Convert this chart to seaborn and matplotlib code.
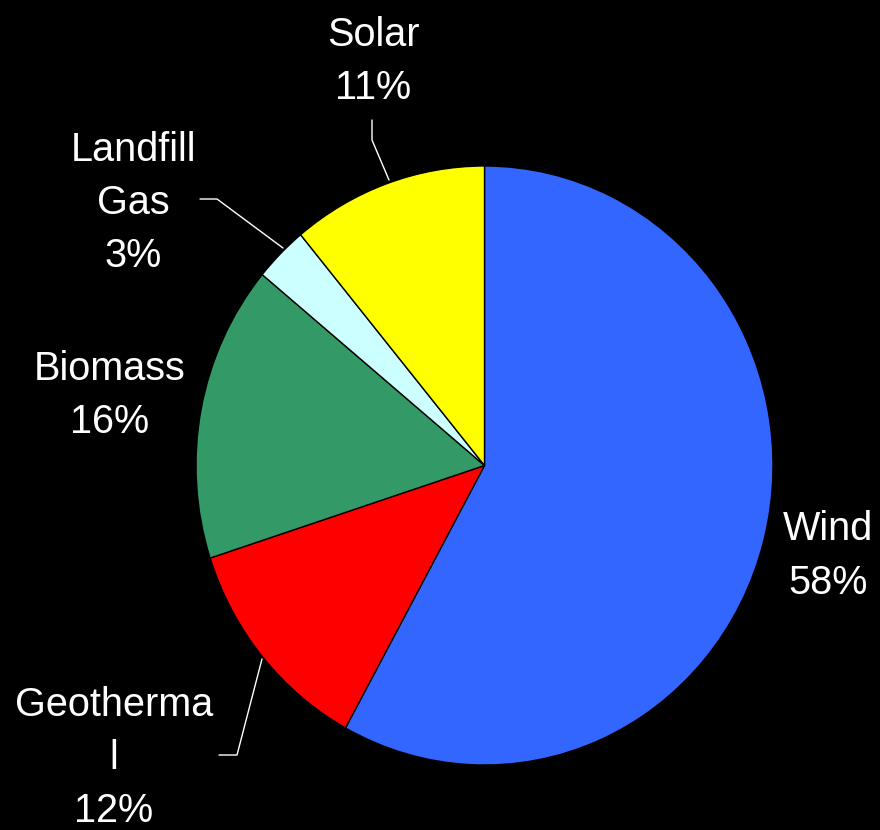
import matplotlib
matplotlib.use("Agg")
import matplotlib.pyplot as plt
import seaborn as sns

# Share of renewable generation by source
sources = ["Wind", "Geothermal", "Biomass", "Landfill Gas", "Solar"]
shares = [58, 12, 16, 3, 11]
labels = ["Wind\n58%", "Geotherma\nl\n12%", "Biomass\n16%", "Landfill\nGas\n3%", "Solar\n11%"]
colors = ["#3366FF", "#FF0000", "#339966", "#CCFFFF", "#FFFF00"]

sns.set_theme(style="white")
plt.rcParams["font.family"] = ["Liberation Sans", "DejaVu Sans"]

W, H = 880, 830
CX, CY = 484.5, 465.5       # pie centre in pixels
RX, RY = 288.5, 299.5       # horizontal / vertical radius in pixels

fig = plt.figure(figsize=(W / 100, H / 100), dpi=100, facecolor="black")
ax = fig.add_axes([0, 0, 1, 1])
ax.set_facecolor("black")

wedges, _ = ax.pie(
    shares,
    colors=colors,
    startangle=90,
    counterclock=False,
    radius=1.0,
    wedgeprops=dict(edgecolor="black", linewidth=1.0),
)
ax.set_aspect("auto")
ax.set_xlim(-CX / RX, (W - CX) / RX)
ax.set_ylim(-(H - CY) / RY, CY / RY)
ax.axis("off")


def to_data(px, py):
    return (px - CX) / RX, (CY - py) / RY


# label block centres in pixels
label_pos = [(828, 556), (114, 758), (110, 395), (133, 203), (373, 61)]
for text, (px, py) in zip(labels, label_pos):
    x, y = to_data(px, py)
    ax.text(x, y, text, color="white", fontsize=28.5, ha="center", va="center",
            linespacing=1.5)

# leader lines for the smaller slices
leaders = [
    [(372, 120), (372, 140), (389, 180)],
    [(200, 199), (217, 199), (283, 248)],
    [(219, 755), (237, 755), (262, 659)],
]
for pts in leaders:
    xs, ys = zip(*[to_data(px, py) for px, py in pts])
    ax.plot(xs, ys, color="white", linewidth=1.0)

fig.savefig("out.png", dpi=100, facecolor="black")
